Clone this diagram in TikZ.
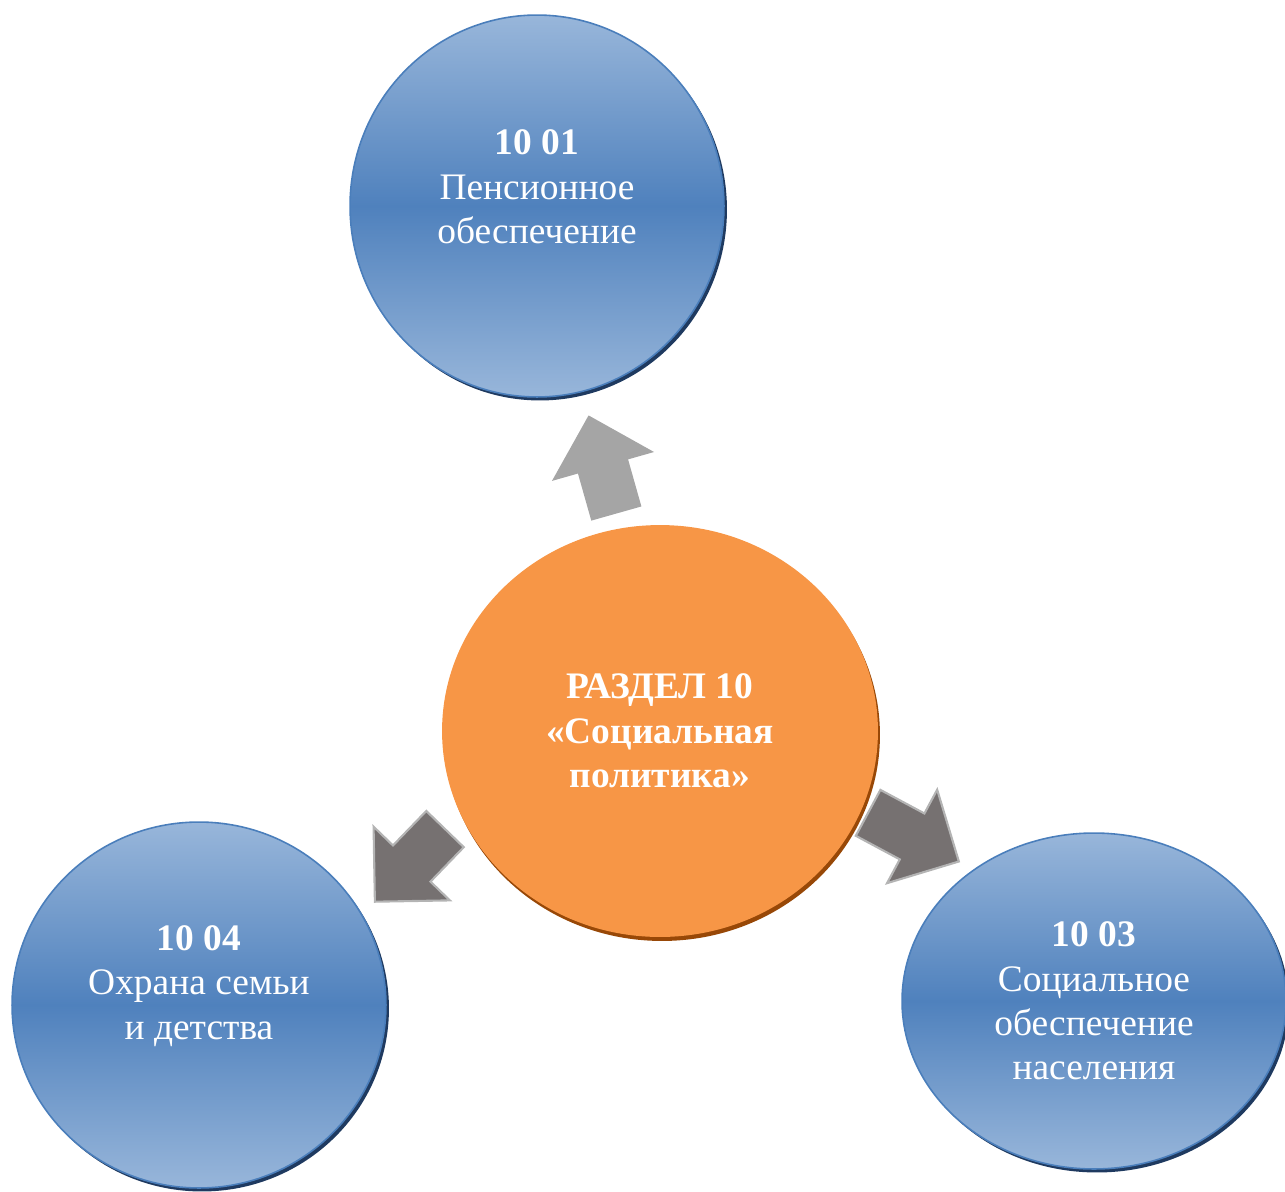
\documentclass[tikz,border=0pt]{standalone}
\usepackage{fontspec}
\setmainfont{Liberation Serif}
\usetikzlibrary{shapes.geometric,shapes.arrows,shadows}
\definecolor{SPBlue}{HTML}{4F81BD}
\definecolor{SPBlueLight}{HTML}{98B6DA}
\definecolor{SPBlueEdge}{HTML}{4A7EBB}
\definecolor{SPNavy}{HTML}{1F3A60}
\definecolor{SPOrange}{HTML}{F79646}
\definecolor{SPBrown}{HTML}{984807}
\definecolor{SPGrayLight}{HTML}{A5A5A5}
\definecolor{SPGrayDark}{HTML}{767171}
\definecolor{SPGrayEdge}{HTML}{B4B4B4}
\tikzset{
  bubble/.style={ellipse,draw=SPBlueEdge,line width=0.9pt,inner sep=0pt,
    top color=SPBlueLight,bottom color=SPBlueLight,middle color=SPBlue,
    general shadow={fill=SPNavy,opacity=1,shadow xshift=0.06cm,shadow yshift=-0.07cm}},
  hub/.style={ellipse,fill=SPOrange,inner sep=0pt,
    general shadow={fill=SPBrown,opacity=1,shadow xshift=0.04cm,shadow yshift=-0.08cm}},
  bubbletext/.style={text=white,align=center,font=\fontsize{21.3}{25.3}\selectfont},
  hubtext/.style={bubbletext,font=\fontsize{21.3}{25.3}\selectfont\bfseries},
  blockarrow/.style={single arrow,inner xsep=0pt,inner ysep=0.5cm,
    single arrow head extend=0.54cm,single arrow tip angle=90,
    fill=SPGrayDark,draw=SPGrayEdge,line width=1.2pt},
  blockarrowlight/.style={blockarrow,fill=SPGrayLight,draw=none},
}
\begin{document}
\begin{tikzpicture}[x=0.02cm,y=-0.02cm]
  \useasboundingbox (0,0) rectangle (1285,1191);
  % circles
  \node[hub,minimum width=8.72cm,minimum height=8.24cm] (razdel) at (660,731) {};
  \node[bubble,minimum width=7.48cm,minimum height=7.64cm] (pens) at (537,206) {};
  \node[bubble,minimum width=7.48cm,minimum height=7.32cm] (semya) at (199,1005) {};
  \node[bubble,minimum width=7.68cm,minimum height=6.72cm] (socobes) at (1094,1001) {};
  % texts
  \node[hubtext] (razdel-t) at (razdel) {РАЗДЕЛ 10\\«Социальная\\политика»};
  \node[bubbletext,yshift=0.38cm] (pens-t) at (pens) {\textbf{10 01}\\Пенсионное\\обеспечение};
  \node[bubbletext,yshift=0.38cm] (semya-t) at (semya) {\textbf{10 04}\\Охрана семьи\\и детства};
  \node[bubbletext] (socobes-t) at (socobes) {\textbf{10 03}\\Социальное\\обеспечение\\населения};
  % arrows
  \node[blockarrowlight,minimum height=2.04cm,rotate=105.8] (to-pens) at (606,477) {};
  \node[blockarrow,minimum height=2.02cm,rotate=226] (to-semya) at (419,856) {};
  \node[blockarrow,minimum height=2.06cm,rotate=-28.2] (to-socobes) at (902,831) {};
\end{tikzpicture}
\end{document}
